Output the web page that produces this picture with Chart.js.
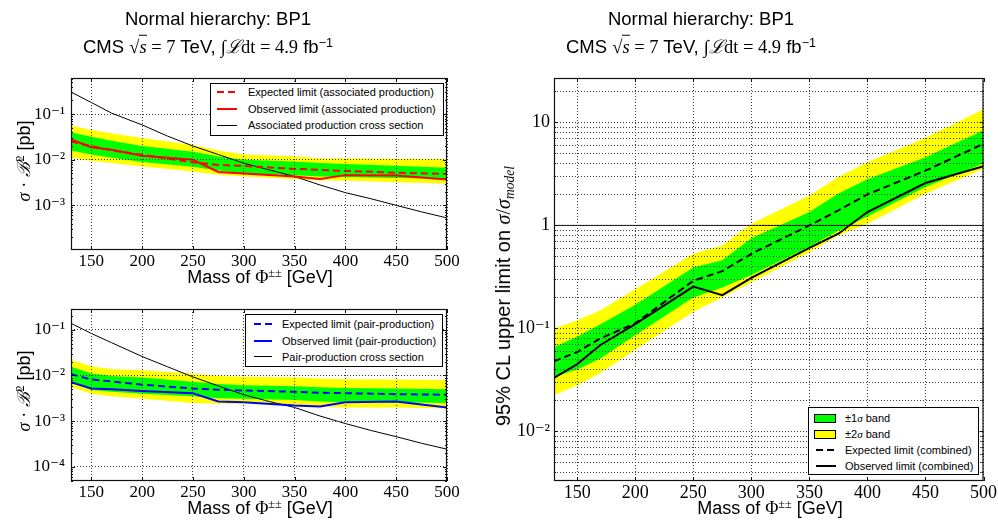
<!DOCTYPE html>
<html><head><meta charset="utf-8">
<script src="https://cdn.jsdelivr.net/npm/chart.js@4.4.1/dist/chart.umd.min.js"></script>
<style>
html,body{margin:0;padding:0;background:#fff;}
#wrap{position:relative;width:998px;height:522px;overflow:hidden;font-family:'Liberation Sans',Arial,sans-serif;color:#000;}
canvas{position:absolute;left:0;top:0;}
.t{position:absolute;white-space:nowrap;transform:translate(-50%,-50%);line-height:1;}
.rot{transform:translate(-50%,-50%) rotate(-90deg);}
.m{font-family:'Liberation Serif','DejaVu Serif',serif;}
.mi{font-family:'Liberation Serif','DejaVu Serif',serif;font-style:italic;}
.sup{font-size:0.68em;position:relative;top:-0.5em;}
.sub{font-size:0.68em;position:relative;top:0.3em;}
.ov{border-top:1px solid #000;padding-top:1px;}
.leg{position:absolute;border:1px solid #000;background:#fff;box-sizing:border-box;font-size:11px;}
.leg .s{position:absolute;box-sizing:border-box;}
.leg .lab{position:absolute;white-space:nowrap;transform:translateY(-50%);line-height:1;}
</style></head>
<body><div id="wrap">
<canvas id="cTL" width="998" height="522"></canvas>
<canvas id="cBL" width="998" height="522"></canvas>
<canvas id="cR" width="998" height="522"></canvas>

<div class="t" style="left:218px;top:19px;font-size:18.5px;">Normal hierarchy: BP1</div>
<div class="t" style="left:208px;top:47px;font-size:18.5px;">CMS <span class="m">√<span class="ov"><i>s</i></span> = 7</span> TeV, <span class="m">∫<i>ℒ</i>dt = 4.9</span> fb<span class="sup">−1</span></div>
<div class="t" style="left:701px;top:19px;font-size:18.5px;">Normal hierarchy: BP1</div>
<div class="t" style="left:691px;top:47px;font-size:18.5px;">CMS <span class="m">√<span class="ov"><i>s</i></span> = 7</span> TeV, <span class="m">∫<i>ℒ</i>dt = 4.9</span> fb<span class="sup">−1</span></div>

<div class="t" style="left:260px;top:277px;font-size:18px;">Mass of <span class="m">Φ<span class="sup">±±</span></span> [GeV]</div>
<div class="t" style="left:260px;top:508px;font-size:18px;">Mass of <span class="m">Φ<span class="sup">±±</span></span> [GeV]</div>
<div class="t" style="left:770px;top:508px;font-size:18px;">Mass of <span class="m">Φ<span class="sup">±±</span></span> [GeV]</div>

<div class="t rot" style="left:24px;top:161px;font-size:18px;"><span class="mi">σ</span> <span class="m">·</span> <span class="mi">ℬ</span><span class="sup m">2</span> [pb]</div>
<div class="t rot" style="left:24px;top:391px;font-size:18px;"><span class="mi">σ</span> <span class="m">·</span> <span class="mi">ℬ</span><span class="sup m">2</span> [pb]</div>
<div class="t rot" style="left:503px;top:296px;font-size:20px;">95% CL upper limit on <span class="mi">σ</span><span class="m">/</span><span class="mi">σ<span class="sub">model</span></span></div>
</div>

<script>
// ---------- data ----------
const massLimits = [130, 150, 170, 200, 250, 275, 300, 350, 375, 400, 450, 500];
const massXsec = [130, 150, 170, 200, 225, 250, 275, 300, 325, 350, 375, 400, 425, 450, 475, 500];
const xTickValues = [150, 200, 250, 300, 350, 400, 450, 500];

// associated production (top left)
const assocExpected = [0.025, 0.020, 0.016, 0.0128, 0.0088, 0.0077, 0.0073, 0.0063, 0.0060, 0.0057, 0.0052, 0.0049];
const assocObserved = [0.028, 0.0188, 0.0165, 0.0123, 0.0100, 0.0054, 0.0050, 0.0043, 0.0038, 0.0046, 0.0045, 0.0037];
const assocXsec = [0.305, 0.18, 0.105, 0.058, 0.033, 0.020, 0.013, 0.0084, 0.0060, 0.0043, 0.0028, 0.0019, 0.0014, 0.0010, 0.00072, 0.00053];
const assocYellowHi = [0.056, 0.045, 0.038, 0.030, 0.021, 0.016, 0.013, 0.012, 0.0108, 0.0108, 0.0105, 0.0104];
const assocGreenHi = [0.040, 0.032, 0.026, 0.020, 0.015, 0.012, 0.010, 0.0092, 0.0085, 0.0081, 0.0074, 0.0067];
const assocGreenLo = [0.016, 0.013, 0.011, 0.0089, 0.0070, 0.0058, 0.0050, 0.0046, 0.0043, 0.0042, 0.0040, 0.0038];
const assocYellowLo = [0.011, 0.0095, 0.0085, 0.0071, 0.0055, 0.0047, 0.0043, 0.0038, 0.0035, 0.0035, 0.0032, 0.0030];
const assocYTicks = [1e-3, 1e-2, 1e-1];
const assocYLabels = ['10⁻³', '10⁻²', '10⁻¹'];
const assocLegendLabels = ['Expected limit (associated production)', 'Observed limit (associated production)', 'Associated production cross section'];

// pair production (bottom left)
const pairExpected = [0.0107, 0.0082, 0.0074, 0.0063, 0.0052, 0.0049, 0.0047, 0.0044, 0.0042, 0.0041, 0.0039, 0.0038];
const pairObserved = [0.0071, 0.0052, 0.0050, 0.0046, 0.0041, 0.0027, 0.0026, 0.0022, 0.0021, 0.0026, 0.0027, 0.0020];
const pairXsec = [0.138, 0.083, 0.052, 0.026, 0.0155, 0.0093, 0.0059, 0.0038, 0.0027, 0.0020, 0.0013, 0.00089, 0.00063, 0.00046, 0.00033, 0.000245];
const pairYellowHi = [0.022, 0.016, 0.0137, 0.013, 0.011, 0.0097, 0.0094, 0.0090, 0.0086, 0.0083, 0.0082, 0.0080];
const pairGreenHi = [0.0155, 0.011, 0.0097, 0.0090, 0.0073, 0.0065, 0.0061, 0.0058, 0.0055, 0.0053, 0.0052, 0.0050];
const pairGreenLo = [0.0073, 0.0048, 0.0044, 0.0040, 0.0035, 0.0032, 0.0031, 0.0029, 0.0027, 0.0026, 0.0026, 0.0025];
const pairYellowLo = [0.0056, 0.0040, 0.0035, 0.0031, 0.0025, 0.0024, 0.0024, 0.0022, 0.0021, 0.0020, 0.0020, 0.0019];
const pairYTicks = [1e-4, 1e-3, 1e-2, 1e-1];
const pairYLabels = ['10⁻⁴', '10⁻³', '10⁻²', '10⁻¹'];
const pairLegendLabels = ['Expected limit (pair-production)', 'Observed limit (pair-production)', 'Pair-production cross section'];

// combined (right)
const combExpected = [0.048, 0.059, 0.080, 0.112, 0.29, 0.36, 0.53, 1.0, 1.4, 2.0, 3.4, 6.2];
const combObserved = [0.033, 0.045, 0.069, 0.11, 0.255, 0.21, 0.31, 0.605, 0.83, 1.35, 2.58, 3.76];
const combYellowHi = [0.10, 0.12, 0.15, 0.24, 0.53, 0.64, 1.04, 1.95, 2.95, 4.1, 7.1, 13.4];
const combGreenHi = [0.066, 0.083, 0.11, 0.17, 0.39, 0.46, 0.75, 1.35, 2.04, 2.8, 4.6, 8.4];
const combGreenLo = [0.034, 0.040, 0.051, 0.086, 0.20, 0.25, 0.33, 0.62, 0.89, 1.22, 2.36, 4.0];
const combYellowLo = [0.0226, 0.028, 0.037, 0.062, 0.145, 0.20, 0.28, 0.55, 0.80, 1.04, 2.03, 3.55];
const combRefX = [130, 500];
const combRefY = [1, 1];
const combYTicks = [0.01, 0.1, 1, 10];
const combYLabels = ['10⁻²', '10⁻¹', '1', '10'];
const combMinorMult = [2, 3, 4, 5, 6, 7, 8, 9];
const combLegendLabels = ['±1<i class="m">σ</i> band', '±2<i class="m">σ</i> band', 'Expected limit (combined)', 'Observed limit (combined)'];

// ---------- helpers ----------
const pts = (xs, ys) => xs.map((x, i) => ({x: x, y: ys[i]}));
const GREEN = '#00ff00', YELLOW = '#ffff00';

function minorTicks(majors, min, max) {
  const out = [];
  const decades = majors.slice();
  decades.unshift(majors[0] / 10);
  decades.forEach(d => combMinorMult.forEach(m => { const v = d * m; if (v > min && v < max) out.push(v); }));
  return out;
}

function lineDs(xs, ys, color, width, dash, order) {
  return {data: pts(xs, ys), borderColor: color, borderWidth: width, borderDash: dash || [],
          pointRadius: 0, fill: false, tension: 0, order: order};
}
function bandDs(xs, ys, color, fill, order) {
  return {data: pts(xs, ys), borderColor: 'rgba(0,0,0,0)', backgroundColor: color, borderWidth: 0,
          pointRadius: 0, fill: fill, tension: 0, order: order};
}

const framePlugin = {
  id: 'frame',
  afterDraw(chart, args, o) {
    const {ctx, chartArea: a, scales} = chart;
    ctx.save();
    ctx.strokeStyle = '#111';
    ctx.lineWidth = 1;
    const seg = (x1, y1, x2, y2) => { ctx.beginPath(); ctx.moveTo(x1, y1); ctx.lineTo(x2, y2); ctx.stroke(); };
    o.xMajor.forEach(v => {
      const p = Math.round(scales.x.getPixelForValue(v)) + 0.5;
      seg(p, a.bottom, p, a.bottom - 4); seg(p, a.top, p, a.top + 4);
    });
    o.yMajor.forEach(v => {
      const p = Math.round(scales.y.getPixelForValue(v)) + 0.5;
      seg(a.left, p, a.left + 4, p); seg(a.right, p, a.right - 4, p);
    });
    o.yMinor.forEach(v => {
      const p = Math.round(scales.y.getPixelForValue(v)) + 0.5;
      seg(a.left, p, a.left + 2, p); seg(a.right, p, a.right - 2, p);
    });
    ctx.lineWidth = 1.2;
    ctx.strokeRect(a.left + 0.5, a.top + 0.5, a.right - a.left - 1, a.bottom - a.top - 1);
    ctx.restore();
  }
};

function makeChart(id, p) {
  const gridTicks = p.gridMinor ? p.yTicks.concat(minorTicks(p.yTicks, p.ymin, p.ymax)) : p.yTicks;
  return new Chart(document.getElementById(id), {
    type: 'line',
    data: {datasets: p.datasets},
    plugins: [framePlugin],
    options: {
      responsive: false, animation: false, devicePixelRatio: 1, events: [],
      layout: {padding: p.padding},
      plugins: {legend: {display: false}, tooltip: {enabled: false}, title: {display: false},
                frame: {xMajor: xTickValues, yMajor: p.yTicks, yMinor: minorTicks(p.yTicks, p.ymin, p.ymax)}},
      scales: {
        x: {
          type: 'linear', min: 130, max: 500,
          afterBuildTicks: s => { s.ticks = xTickValues.map(v => ({value: v})); },
          afterFit: s => { s.height = 30; },
          grid: {color: '#3a3a3a', lineWidth: 1, drawTicks: false, z: 1},
          border: {display: false, dash: [1, 2]},
          ticks: {font: {family: "'Liberation Serif','DejaVu Serif',serif", size: p.tickSize}, color: '#000',
                  padding: 1, maxRotation: 0, autoSkip: false, callback: v => String(v)}
        },
        y: {
          type: 'logarithmic', min: p.ymin, max: p.ymax,
          afterBuildTicks: s => { s.ticks = gridTicks.map(v => ({value: v})); },
          afterFit: s => { s.width = 50; },
          grid: {color: '#3a3a3a', lineWidth: 1, drawTicks: false, z: 1},
          border: {display: false, dash: [1, 2]},
          ticks: {font: {family: "'Liberation Serif','DejaVu Serif',serif", size: p.tickSize}, color: '#000',
                  padding: p.yPad, autoSkip: false,
                  callback: v => {
                    const i = p.yTicks.findIndex(t => Math.abs(Math.log10(t) - Math.log10(v)) < 1e-6);
                    return i >= 0 ? p.yLabels[i] : '';
                  }}
        }
      }
    }
  });
}

// ---------- charts ----------
makeChart('cTL', {
  padding: {left: 21, right: 551, top: 78, bottom: 242},
  ymin: 1.05e-4, ymax: 0.62, yTicks: assocYTicks, yLabels: assocYLabels, tickSize: 17, yPad: 6,
  datasets: [
    lineDs(massLimits, assocExpected, '#ff0000', 2, [7, 4], 0),
    lineDs(massLimits, assocObserved, '#ff0000', 2, [], 0),
    lineDs(massXsec, assocXsec, '#000000', 1, [], 0),
    bandDs(massLimits, assocGreenHi, GREEN, '+1', 1),
    bandDs(massLimits, assocGreenLo, GREEN, false, 1),
    bandDs(massLimits, assocYellowHi, YELLOW, '+1', 2),
    bandDs(massLimits, assocYellowLo, YELLOW, false, 2)
  ]
});

makeChart('cBL', {
  padding: {left: 21, right: 551, top: 309, bottom: 11},
  ymin: 4.94e-5, ymax: 0.284, yTicks: pairYTicks, yLabels: pairYLabels, tickSize: 17, yPad: 6,
  datasets: [
    lineDs(massLimits, pairExpected, '#0000ff', 2, [7, 4], 0),
    lineDs(massLimits, pairObserved, '#0000ff', 2, [], 0),
    lineDs(massXsec, pairXsec, '#000000', 1, [], 0),
    bandDs(massLimits, pairGreenHi, GREEN, '+1', 1),
    bandDs(massLimits, pairGreenLo, GREEN, false, 1),
    bandDs(massLimits, pairYellowHi, YELLOW, '+1', 2),
    bandDs(massLimits, pairYellowLo, YELLOW, false, 2)
  ]
});

makeChart('cR', {
  padding: {left: 504, right: 14, top: 78, bottom: 11},
  ymin: 0.0033, ymax: 27, yTicks: combYTicks, yLabels: combYLabels, tickSize: 18, yPad: 4, gridMinor: true,
  datasets: [
    lineDs(massLimits, combExpected, '#000000', 2, [7, 4], 0),
    lineDs(massLimits, combObserved, '#000000', 2, [], 0),
    lineDs(combRefX, combRefY, '#000000', 1, [], 0),
    bandDs(massLimits, combGreenHi, GREEN, '+1', 1),
    bandDs(massLimits, combGreenLo, GREEN, false, 1),
    bandDs(massLimits, combYellowHi, YELLOW, '+1', 2),
    bandDs(massLimits, combYellowLo, YELLOW, false, 2)
  ]
});

// ---------- legends (HTML overlays inside the plot areas) ----------
function addLegend(box, rows) {
  const d = document.createElement('div');
  d.className = 'leg';
  Object.assign(d.style, {left: box[0] + 'px', top: box[1] + 'px', width: box[2] + 'px', height: box[3] + 'px'});
  rows.forEach(r => {
    const s = document.createElement('div');
    s.className = 's';
    if (r.kind === 'patch') {
      Object.assign(s.style, {left: r.x0 + 'px', top: (r.y - 4) + 'px', width: (r.x1 - r.x0) + 'px', height: '9px',
                              background: r.color, border: '1px solid #000'});
    } else {
      Object.assign(s.style, {left: r.x0 + 'px', top: (r.y - r.lw / 2) + 'px', width: (r.x1 - r.x0) + 'px', height: r.lw + 'px',
                              background: r.kind === 'dash'
                                ? 'repeating-linear-gradient(to right,' + r.color + ' 0 7px, rgba(0,0,0,0) 7px 11px)'
                                : r.color});
    }
    d.appendChild(s);
    const l = document.createElement('div');
    l.className = 'lab';
    l.style.left = r.tx + 'px';
    l.style.top = r.y + 'px';
    l.innerHTML = r.label;
    d.appendChild(l);
  });
  document.getElementById('wrap').appendChild(d);
}

addLegend([210, 83, 234, 53], [
  {kind: 'dash', color: '#ff0000', lw: 2, x0: 6, x1: 26, y: 8, tx: 37, label: assocLegendLabels[0]},
  {kind: 'line', color: '#ff0000', lw: 2, x0: 6, x1: 26, y: 24.5, tx: 37, label: assocLegendLabels[1]},
  {kind: 'line', color: '#000000', lw: 1, x0: 6, x1: 26, y: 41, tx: 37, label: assocLegendLabels[2]}
]);
addLegend([245, 314, 198, 53], [
  {kind: 'dash', color: '#0000ff', lw: 2, x0: 8, x1: 26, y: 9, tx: 36, label: pairLegendLabels[0]},
  {kind: 'line', color: '#0000ff', lw: 2, x0: 8, x1: 26, y: 25.5, tx: 36, label: pairLegendLabels[1]},
  {kind: 'line', color: '#000000', lw: 1, x0: 8, x1: 26, y: 41.5, tx: 36, label: pairLegendLabels[2]}
]);
addLegend([808, 407, 171, 68], [
  {kind: 'patch', color: GREEN, x0: 5, x1: 27, y: 9.5, tx: 36, label: combLegendLabels[0]},
  {kind: 'patch', color: YELLOW, x0: 5, x1: 27, y: 25.5, tx: 36, label: combLegendLabels[1]},
  {kind: 'dash', color: '#000000', lw: 2, x0: 7, x1: 27, y: 42, tx: 36, label: combLegendLabels[2]},
  {kind: 'line', color: '#000000', lw: 2, x0: 7, x1: 27, y: 57.5, tx: 36, label: combLegendLabels[3]}
]);
</script>
</body></html>
